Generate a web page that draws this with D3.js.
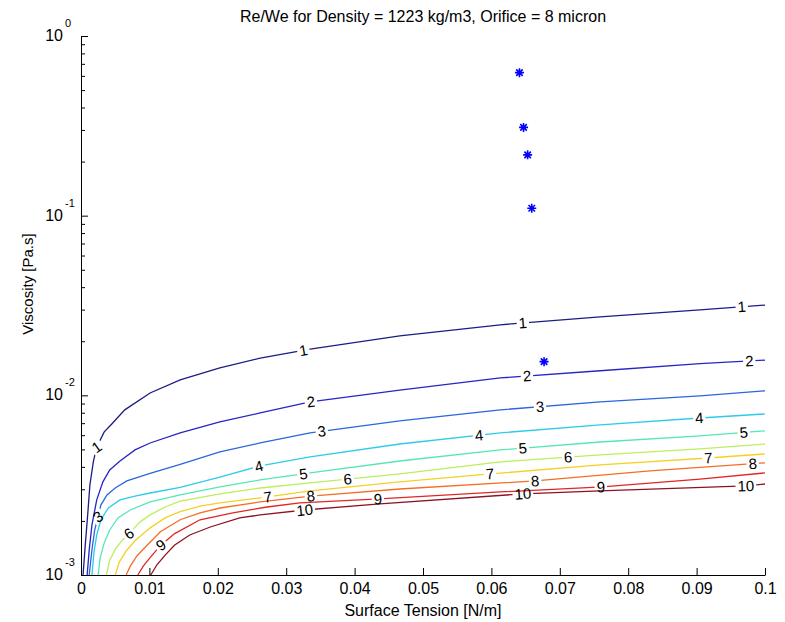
<!DOCTYPE html>
<html>
<head>
<meta charset="utf-8">
<script src="https://cdn.jsdelivr.net/npm/d3@7"></script>
<style>
  body { margin: 0; background: #fff; }
  text { font-family: "Liberation Sans", Arial, Helvetica, sans-serif; fill: #000; }
</style>
</head>
<body>
<div id="viz"></div>
<script>
const margin = { top: 36, right: 20, bottom: 47, left: 81 };
const width = 785;
const height = 622;

const titleText = "Re/We for Density = 1223 kg/m3, Orifice = 8 micron";
const xLabelText = "Surface Tension [N/m]";
const yLabelText = "Viscosity [Pa.s]";

const xTicks = [0, 0.01, 0.02, 0.03, 0.04, 0.05, 0.06, 0.07, 0.08, 0.09, 0.1];
const xTickLabels = ["0", "0.01", "0.02", "0.03", "0.04", "0.05", "0.06", "0.07", "0.08", "0.09", "0.1"];
const yTicks = [0.001, 0.01, 0.1, 1];
const yTickExponents = ["-3", "-2", "-1", "0"];

// contour levels and the [surface tension, viscosity] points of each line
const contourLevels = [1, 2, 3, 4, 5, 6, 7, 8, 9, 10];
const level1 = [[0.0003,0.00100],[0.0006,0.00143],[0.0010,0.00222],[0.0013,0.00317],[0.0018,0.00426],[0.0023,0.00516],[0.0034,0.00626],[0.0045,0.00693],[0.0064,0.0083],[0.0101,0.0103],[0.0145,0.0122],[0.0203,0.0142],[0.0262,0.0161],[0.0335,0.0181],[0.0466,0.0214],[0.0613,0.0247],[0.0759,0.0273],[0.0905,0.0299],[0.1,0.0318]];
const level2 = [[0.0009,0.00100],[0.0012,0.00138],[0.0016,0.00190],[0.0023,0.00262],[0.0032,0.00330],[0.0042,0.00384],[0.0057,0.00431],[0.0079,0.00497],[0.0101,0.00543],[0.0145,0.00618],[0.0203,0.00711],[0.0262,0.00798],[0.0335,0.00919],[0.0466,0.0107],[0.0613,0.0125],[0.0759,0.0137],[0.0905,0.0150],[0.1,0.0157]];
const level3 = [[0.0012,0.00100],[0.0016,0.00138],[0.0020,0.00178],[0.0025,0.00211],[0.0029,0.00245],[0.0038,0.00279],[0.0050,0.00305],[0.0067,0.00334],[0.0101,0.00368],[0.0145,0.00413],[0.0203,0.00484],[0.0262,0.00543],[0.0335,0.00618],[0.0466,0.00720],[0.0613,0.00830],[0.0759,0.00919],[0.0905,0.00992],[0.1,0.0106]];
const level4 = [[0.0016,0.00100],[0.0019,0.00134],[0.0023,0.00167],[0.0029,0.00203],[0.0040,0.00236],[0.0057,0.00262],[0.0079,0.00275],[0.0101,0.00286],[0.0145,0.00307],[0.0203,0.00351],[0.0262,0.00405],[0.0335,0.00454],[0.0466,0.00536],[0.0613,0.00618],[0.0759,0.00684],[0.0905,0.00748],[0.1,0.00788]];
const level5 = [[0.0025,0.00100],[0.0028,0.00125],[0.0034,0.00151],[0.0042,0.00178],[0.0054,0.00208],[0.0072,0.00230],[0.0101,0.00255],[0.0145,0.00279],[0.0203,0.00309],[0.0262,0.00338],[0.0335,0.00370],[0.0466,0.00431],[0.0613,0.00497],[0.0759,0.00550],[0.0905,0.00594],[0.1,0.00634]];
const level6 = [[0.0037,0.00100],[0.0042,0.00121],[0.0051,0.00141],[0.0061,0.00157],[0.0070,0.00170],[0.0086,0.00197],[0.0101,0.00216],[0.0123,0.00239],[0.0145,0.00258],[0.0203,0.00283],[0.0262,0.00305],[0.0335,0.00326],[0.0466,0.00365],[0.0613,0.00426],[0.0759,0.00466],[0.0905,0.00503],[0.1,0.00536]];
const level7 = [[0.0050,0.00100],[0.0056,0.00118],[0.0066,0.00136],[0.0079,0.00155],[0.0101,0.00183],[0.0123,0.00208],[0.0145,0.00225],[0.0174,0.00242],[0.0203,0.00252],[0.0273,0.00272],[0.0335,0.00294],[0.0466,0.00330],[0.0598,0.00365],[0.0759,0.00410],[0.0917,0.00448],[0.1,0.00472]];
const level8 = [[0.0066,0.00100],[0.0072,0.00112],[0.0082,0.00128],[0.0097,0.00147],[0.0116,0.00174],[0.0145,0.00203],[0.0174,0.00222],[0.0203,0.00236],[0.0262,0.00255],[0.0336,0.00275],[0.0466,0.00301],[0.0664,0.00334],[0.0832,0.00380],[0.1,0.00421]];
const level9 = [[0.0083,0.00100],[0.0091,0.00112],[0.0101,0.00125],[0.0117,0.00147],[0.0137,0.00170],[0.0174,0.00203],[0.0222,0.00222],[0.0272,0.00239],[0.0320,0.00252],[0.0436,0.00265],[0.0613,0.00290],[0.0762,0.00309],[0.0905,0.00342],[0.1,0.00370]];
const level10 = [[0.0102,0.00100],[0.0111,0.00114],[0.0123,0.00129],[0.0137,0.00147],[0.0159,0.00167],[0.0189,0.00185],[0.0232,0.00208],[0.0262,0.00216],[0.0327,0.00230],[0.0437,0.00249],[0.0646,0.00283],[0.0759,0.00294],[0.0972,0.00313],[0.1,0.00321]];
const contourLines = [level1, level2, level3, level4, level5, level6, level7, level8, level9, level10];

// surface tension where each level's inline label sits
const labelTension = [
    [0.0023, 0.0325, 0.0646, 0.0966],
    [0.0336, 0.0652, 0.0977],
    [0.0025, 0.0352, 0.0671],
    [0.0260, 0.0582, 0.0904],
    [0.0325, 0.0646, 0.0969],
    [0.0070, 0.0390, 0.0712],
    [0.0273, 0.0598, 0.0917],
    [0.0336, 0.0664, 0.0982],
    [0.0117, 0.0434, 0.0760],
    [0.0327, 0.0646, 0.0972]
];

// measured fluids (blue stars)
const starTension = [0.0641, 0.0647, 0.0653, 0.0659, 0.0677];
const starViscosity = [0.625, 0.310, 0.218, 0.110, 0.0154];

// jet colours, a little washed like the original
const levelColors = ["#1c1c84", "#2626c4", "#2a66dc", "#2ccbec", "#55e6b8", "#bdef5c", "#f6d024", "#f76d26", "#e02626", "#8a1422"];

const xScale = d3.scaleLinear()
    .domain([0, 0.1])
    .range([margin.left, width - margin.right]);
const yScale = d3.scaleLog()
    .domain([0.001, 1])
    .range([height - margin.bottom, margin.top]);

const svg = d3.select('#viz')
    .append('svg')
        .attr('width', width)
        .attr('height', height)
        .attr('viewBox', [0, 0, width, height]);

const line = d3.line()
    .x(d => xScale(d[0]))
    .y(d => yScale(d[1]));

const defs = svg.append('defs');
const linesG = svg.append('g');
const labelsG = svg.append('g');

// place labels first so their boxes can cut gaps in the lines
contourLevels.forEach((lev, i) => {
    const pts = contourLines[i].map(d => [xScale(d[0]), yScale(d[1])]);
    const mask = defs.append('mask')
        .attr('id', 'gap' + lev)
        .attr('maskUnits', 'userSpaceOnUse')
        .attr('x', 0).attr('y', 0).attr('width', width).attr('height', height);
    mask.append('rect')
        .attr('width', width).attr('height', height).attr('fill', '#fff');

    labelTension[i].forEach(s => {
        const lx = xScale(s);
        let k = 1;
        while (k < pts.length - 1 && pts[k][0] < lx) k++;
        const a = pts[k - 1], b = pts[k];
        const t = (lx - a[0]) / (b[0] - a[0]);
        const ly = a[1] + t * (b[1] - a[1]);
        let ang = Math.atan2(b[1] - a[1], b[0] - a[0]) * 180 / Math.PI;
        ang = Math.max(-35, Math.min(35, ang));
        const tr = `translate(${lx},${ly}) rotate(${ang})`;

        const txt = labelsG.append('text')
            .attr('transform', tr)
            .attr('text-anchor', 'middle')
            .attr('dy', '0.35em')
            .style('font-size', '15px')
            .text(lev);
        const w = txt.node().getComputedTextLength();
        mask.append('rect')
            .attr('transform', tr)
            .attr('x', -w / 2 - 2)
            .attr('y', -6)
            .attr('width', w + 4)
            .attr('height', 12)
            .attr('fill', '#000');
    });

    linesG.append('path')
        .datum(contourLines[i])
        .attr('d', line)
        .attr('fill', 'none')
        .attr('stroke', levelColors[i])
        .attr('stroke-width', 1.3)
        .attr('mask', `url(#gap${lev})`);
});

// stars
const starPath = (r) => {
    const q = r * 0.72;
    return `M${-r},0H${r}M0,${-r}V${r}M${-q},${-q}L${q},${q}M${-q},${q}L${q},${-q}`;
};
svg.append('g')
    .selectAll('path')
    .data(starTension)
    .join('path')
        .attr('transform', (d, i) => `translate(${xScale(d)},${yScale(starViscosity[i])})`)
        .attr('d', starPath(4.5))
        .attr('stroke', '#0000ff')
        .attr('stroke-width', 1.6)
        .attr('fill', 'none');

// x axis, ticks pointing inward
const xAxisG = svg.append('g')
    .attr('transform', `translate(0, ${height - margin.bottom})`)
    .call(d3.axisBottom(xScale)
        .tickValues(xTicks)
        .tickSize(-7)
        .tickSizeOuter(0)
        .tickPadding(8)
        .tickFormat((d, i) => xTickLabels[i]));
xAxisG.selectAll('text').style('font-size', '16px');

// y axis: major + minor log ticks
const yMinor = [];
for (let e = -3; e < 0; e++) {
    for (let m = 2; m <= 9; m++) yMinor.push(m * Math.pow(10, e));
}
svg.append('g')
    .attr('transform', `translate(${margin.left}, 0)`)
    .call(d3.axisLeft(yScale)
        .tickValues(yTicks)
        .tickSize(-7)
        .tickSizeOuter(0)
        .tickFormat(''));
svg.append('g')
    .attr('transform', `translate(${margin.left}, 0)`)
    .call(d3.axisLeft(yScale)
        .tickValues(yMinor)
        .tickSize(-4)
        .tickFormat(''))
    .call(g => g.select('.domain').remove());

const yLab = svg.append('g');
yTicks.forEach((v, i) => {
    const y = yScale(v);
    yLab.append('text')
        .attr('x', margin.left - 18)
        .attr('y', y + 5)
        .attr('text-anchor', 'end')
        .style('font-size', '16px')
        .text('10');
    yLab.append('text')
        .attr('x', margin.left - 16)
        .attr('y', y - 9)
        .attr('text-anchor', 'start')
        .style('font-size', '11px')
        .text(yTickExponents[i]);
});

// titles
svg.append('text')
    .attr('x', (margin.left + width - margin.right) / 2)
    .attr('y', 22)
    .attr('text-anchor', 'middle')
    .style('font-size', '16px')
    .text(titleText);

svg.append('text')
    .attr('x', (margin.left + width - margin.right) / 2)
    .attr('y', 616)
    .attr('text-anchor', 'middle')
    .style('font-size', '16px')
    .text(xLabelText);

svg.append('text')
    .attr('transform', `translate(33, 284) rotate(-90)`)
    .attr('text-anchor', 'middle')
    .style('font-size', '15px')
    .text(yLabelText);
</script>
</body>
</html>
